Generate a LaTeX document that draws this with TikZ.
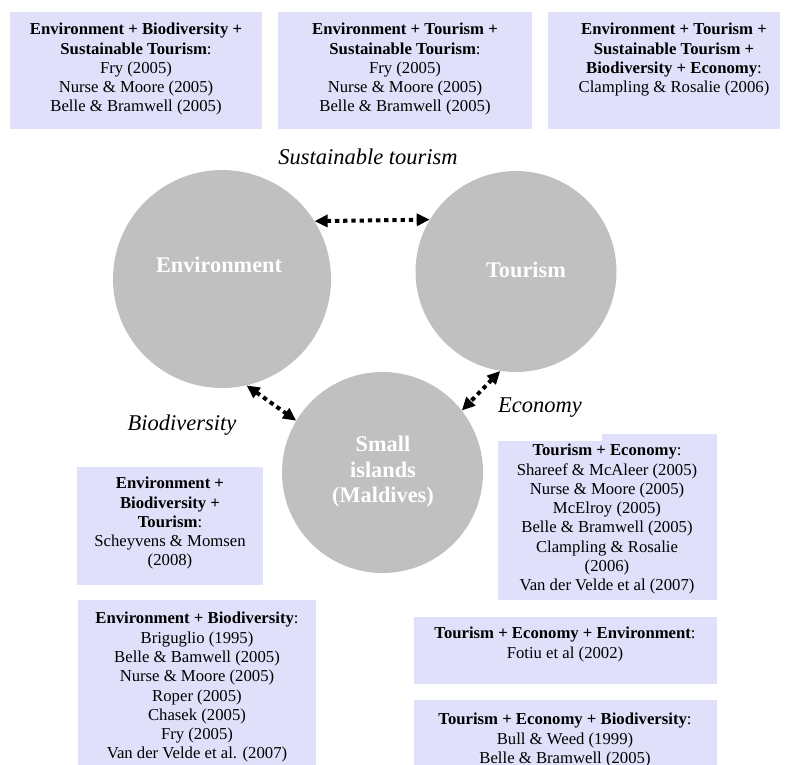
\documentclass[tikz,border=0pt]{standalone}
\usepackage{fontspec}
\setmainfont{Liberation Serif}
\usetikzlibrary{arrows.meta}
\definecolor{boxfill}{RGB}{224,224,250}
\definecolor{circfill}{RGB}{192,192,192}
\begin{document}
\begin{tikzpicture}[x=1pt,y=-1pt,
  refbox/.style={fill=boxfill, draw=none, inner sep=0pt, anchor=north west},
  reftext/.style={align=center, inner sep=0pt, anchor=north, font=\fontsize{16.7}{19.3}\selectfont},
  bubble/.style={circle, fill=circfill, draw=none, inner sep=0pt},
  bubbletext/.style={align=center, text=white, font=\fontsize{22.3}{25.5}\selectfont\bfseries, inner sep=0pt},
  linklabel/.style={font=\fontsize{22.5}{26}\selectfont\itshape, inner sep=0pt},
  link/.style={line width=4pt, dash pattern=on 4.3pt off 3.9pt, {Triangle[length=13pt,width=12pt]}-{Triangle[length=13pt,width=12pt]}}
]
\useasboundingbox (0,0) rectangle (787,764);

% reference boxes
\node[refbox, minimum width=252pt, minimum height=117pt] (b1) at (10,12) {};
\node[refbox, minimum width=254pt, minimum height=117pt] (b2) at (278,12) {};
\node[refbox, minimum width=232pt, minimum height=117pt] (b3) at (548,12) {};
\node[refbox, minimum width=186pt, minimum height=118pt] (b4) at (77,467) {};
\node[refbox, minimum width=219pt, minimum height=166pt] (b5) at (498,434) {};
\node[refbox, minimum width=238pt, minimum height=170pt] (b6) at (78,600) {};
\node[refbox, minimum width=303pt, minimum height=67pt] (b7) at (414,617) {};
\node[refbox, minimum width=303pt, minimum height=80pt] (b8) at (414,700) {};
\fill[white] (b5.north west) rectangle (602,441);

\node[reftext] (t1) at (136,23) {\textbf{Environment + Biodiversity +}\\\textbf{Sustainable Tourism}:\\Fry (2005)\\Nurse \& Moore (2005)\\Belle \& Bramwell (2005)};
\node[reftext] (t2) at (405,23) {\textbf{Environment + Tourism +}\\\textbf{Sustainable Tourism}:\\Fry (2005)\\Nurse \& Moore (2005)\\Belle \& Bramwell (2005)};
\node[reftext] (t3) at (674,23) {\textbf{Environment + Tourism +}\\\textbf{Sustainable Tourism +}\\\textbf{Biodiversity + Economy}:\\Clampling \& Rosalie (2006)};
\node[reftext] (t4) at (170,477) {\textbf{Environment +}\\\textbf{Biodiversity +}\\\textbf{Tourism}:\\Scheyvens \& Momsen\\(2008)};
\node[reftext] (t5) at (607,444) {\textbf{Tourism + Economy}:\\Shareef \& McAleer (2005)\\Nurse \& Moore (2005)\\McElroy (2005)\\Belle \& Bramwell (2005)\\Clampling \& Rosalie\\(2006)\\Van der Velde et al (2007)};
\node[reftext] (t6) at (197,612) {\textbf{Environment + Biodiversity}:\\Briguglio (1995)\\Belle \& Bamwell (2005)\\Nurse \& Moore (2005)\\Roper (2005)\\Chasek (2005)\\Fry (2005)\\Van der Velde et al. (2007)};
\node[reftext] (t7) at (565,627) {\textbf{Tourism + Economy + Environment}:\\Fotiu et al (2002)};
\node[reftext] (t8) at (565,713) {\textbf{Tourism + Economy + Biodiversity}:\\Bull \& Weed (1999)\\Belle \& Bramwell (2005)};

% circles
\node[bubble, minimum size=218pt] (env) at (222,279) {};
\node[bubble, minimum size=201pt] (tour) at (516,271.5) {};
\node[bubble, minimum size=201pt] (isl) at (382.5,472.5) {};
\node[bubbletext] (envt) at (219,265) {Environment};
\node[bubbletext] (tourt) at (526,270) {Tourism};
\node[bubbletext] (islt) at (383,472) {Small\\islands\\(Maldives)};

% links
\draw[link] (env.32.4) -- (tour.149);
\draw[link] (env.-77) -- (isl.149);
\draw[link] (tour.261) -- (isl.38);

\node[linklabel] (lsus) at (368,157) {Sustainable tourism};
\node[linklabel] (lbio) at (182,425) {Biodiversity};
\node[linklabel] (leco) at (540,408) {Economy};
\end{tikzpicture}
\end{document}
